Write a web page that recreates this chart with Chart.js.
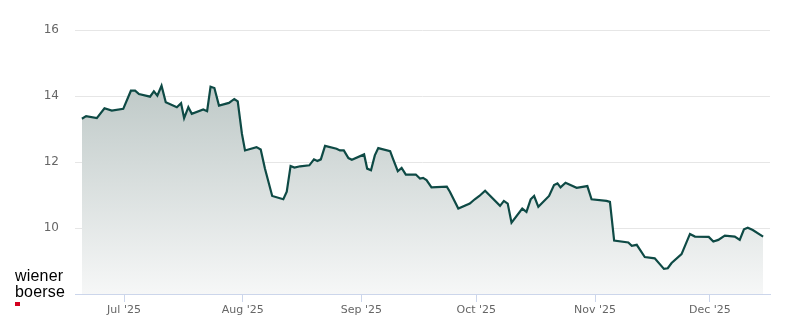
<!DOCTYPE html>
<html>
<head>
<meta charset="utf-8">
<script src="https://cdn.jsdelivr.net/npm/chart.js@4"></script>
<style>
  html, body { margin: 0; padding: 0; background: #fff; }
  #wrap { position: relative; width: 800px; height: 324px; }
  #logo { position: absolute; left: 15px; top: 268px; font-family: "Liberation Sans", Arial, sans-serif;
          font-size: 16px; line-height: 16px; color: #000; letter-spacing: 0.2px; }
  #logo .dot { position: absolute; left: 0; top: 34px; width: 5px; height: 4px; background: #d3001f; }
</style>
</head>
<body>
<div id="wrap">
  <canvas id="myChart" width="800" height="324"></canvas>
  <div id="logo">wiener<br>boerse<div class="dot"></div></div>
</div>
<script>
// days counted from 1 Jul 2025
const dayOffsets = [
  -11.0, -9.9, -7.1, -5.1, -3.2, -0.2, 1.8, 2.9, 3.9, 6.8,
  7.8, 8.7, 9.8, 10.9, 13.8, 14.9, 15.7, 16.8, 17.7, 20.7,
  21.7, 22.6, 23.6, 24.8, 27.4, 28.8, 29.7, 30.8, 31.6, 34.6,
  35.7, 36.8, 38.7, 41.6, 42.5, 43.5, 44.5, 46.0, 48.4, 49.6,
  50.5, 51.4, 52.5, 55.5, 56.4, 57.4, 58.6, 59.5, 62.7, 63.5,
  64.5, 65.5, 66.4, 69.5, 70.3, 71.5, 72.5, 73.6, 76.2, 77.3,
  78.1, 79.0, 80.3, 84.3, 85.1, 87.3, 90.3, 91.6, 92.8, 94.3,
  98.2, 99.2, 100.2, 101.2, 104.0, 105.1, 106.2, 107.1, 108.2, 111.0,
  112.3, 113.2, 114.0, 115.3, 118.2, 121.0, 122.1, 126.0, 126.9, 128.0,
  131.7, 132.6, 133.9, 136.0, 138.6, 141.0, 142.0, 143.0, 145.6, 147.8,
  149.1, 152.7, 153.9, 155.2, 156.9, 159.5, 160.8, 161.9, 162.9, 164.2,
  166.9
];
const prices = [
  13.31, 13.39, 13.33, 13.63, 13.56, 13.61, 14.16, 14.16, 14.06, 13.98,
  14.14, 14.01, 14.31, 13.81, 13.66, 13.78, 13.33, 13.66, 13.46, 13.59,
  13.54, 14.28, 14.24, 13.71, 13.79, 13.91, 13.84, 12.85, 12.35, 12.45,
  12.38, 11.80, 10.97, 10.87, 11.10, 11.88, 11.83, 11.87, 11.90, 12.08,
  12.03, 12.08, 12.49, 12.40, 12.35, 12.35, 12.12, 12.07, 12.23, 11.80,
  11.75, 12.20, 12.42, 12.33, 12.08, 11.72, 11.82, 11.62, 11.62, 11.50,
  11.52, 11.45, 11.23, 11.25, 11.10, 10.59, 10.74, 10.87, 10.97, 11.13,
  10.67, 10.82, 10.74, 10.16, 10.59, 10.49, 10.87, 10.97, 10.64, 10.97,
  11.30, 11.35, 11.23, 11.37, 11.22, 11.27, 10.87, 10.82, 10.79, 9.62,
  9.56, 9.46, 9.49, 9.12, 9.08, 8.76, 8.78, 8.94, 9.21, 9.82,
  9.74, 9.73, 9.59, 9.64, 9.77, 9.74, 9.64, 9.96, 10.01, 9.94,
  9.74
];
const monthStarts = [0, 31, 62, 92, 123, 153];
const monthLabels = ["Jul '25", "Aug '25", "Sep '25", "Oct '25", "Nov '25", "Dec '25"];
const yTicks = [8, 10, 12, 14, 16];

const points = dayOffsets.map((d, i) => ({ x: d, y: prices[i] }));

const ctx = document.getElementById('myChart').getContext('2d');
new Chart(ctx, {
  type: 'line',
  data: {
    datasets: [{
      label: 'Kurs',
      data: points,
      borderColor: '#0e4a45',
      borderWidth: 2.2,
      pointRadius: 0,
      tension: 0,
      fill: 'start',
      backgroundColor: function(context) {
        const area = context.chart.chartArea;
        if (!area) return 'rgba(180,192,190,0.6)';
        const g = context.chart.ctx.createLinearGradient(0, area.top, 0, area.bottom);
        g.addColorStop(0, 'rgb(176,189,187)');
        g.addColorStop(1, 'rgb(246,247,247)');
        return g;
      }
    }]
  },
  options: {
    responsive: false,
    animation: false,
    layout: { padding: { top: 30, right: 30, bottom: 0, left: 0 } },
    plugins: { legend: false, tooltip: { enabled: false } },
    scales: {
      x: {
        type: 'linear',
        min: -12.8,
        max: 168.7,
        afterBuildTicks: function(scale) {
          scale.ticks = monthStarts.map(v => ({ value: v }));
        },
        afterFit: function(scale) { scale.height = 30; },
        ticks: {
          autoSkip: false,
          maxRotation: 0,
          padding: 2,
          color: '#666',
          font: { family: 'DejaVu Sans', size: 11 },
          callback: function(value) {
            const i = monthStarts.indexOf(value);
            return i >= 0 ? monthLabels[i] : '';
          }
        },
        grid: { drawOnChartArea: false, drawTicks: true, tickLength: 8, color: '#ccd6eb' },
        border: { display: true, color: '#ccd6eb', width: 1 }
      },
      y: {
        min: 8,
        max: 16,
        afterBuildTicks: function(scale) {
          scale.ticks = yTicks.map(v => ({ value: v }));
        },
        afterFit: function(scale) { scale.width = 75; },
        ticks: {
          padding: 16,
          color: '#666',
          font: { family: 'DejaVu Sans', size: 12 },
          callback: function(value) { return value === 8 ? '' : value; }
        },
        grid: {
          drawTicks: false,
          color: function(c) { return c.tick && c.tick.value === 8 ? 'rgba(0,0,0,0)' : '#e6e6e6'; }
        },
        border: { display: false }
      }
    }
  }
});
</script>
</body>
</html>
